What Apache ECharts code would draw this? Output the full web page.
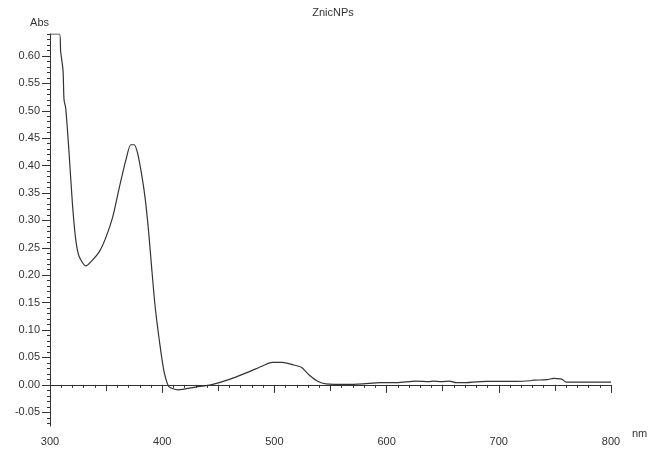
<!DOCTYPE html>
<html>
<head>
<meta charset="utf-8">
<script src="https://cdn.jsdelivr.net/npm/echarts@6/dist/echarts.min.js"></script>
<style>
html,body{margin:0;padding:0;background:#fff;}
#c{width:666px;height:467px;}
</style>
</head>
<body>
<div id="c"></div>
<script>
const chartTitle = 'ZnicNPs';
const xName = 'nm';
const yName = 'Abs';
const wavelength = [300, 308.5, 309.5, 311.6, 312.5, 314, 317, 320, 323, 326, 332, 338, 344, 350, 356, 362, 368, 372, 375, 378, 382, 385, 388, 391, 394, 399, 402, 406, 414, 430, 445, 460, 475, 490, 498, 507, 516, 524, 531, 539, 546, 564, 579, 594, 609, 626, 638, 641, 649, 656, 662, 671, 680, 689, 701, 716, 728, 731, 743, 749, 755, 757, 760, 800];
const absorbance = [0.640, 0.640, 0.608, 0.574, 0.520, 0.505, 0.423, 0.330, 0.264, 0.234, 0.217, 0.228, 0.243, 0.270, 0.307, 0.362, 0.413, 0.438, 0.438, 0.423, 0.380, 0.337, 0.277, 0.204, 0.137, 0.058, 0.021, -0.003, -0.009, -0.004, 0.001, 0.010, 0.022, 0.035, 0.041, 0.041, 0.037, 0.032, 0.018, 0.006, 0.002, 0.001, 0.002, 0.004, 0.004, 0.007, 0.006, 0.007, 0.006, 0.007, 0.004, 0.004, 0.0055, 0.0065, 0.0065, 0.0065, 0.0075, 0.0085, 0.0095, 0.012, 0.011, 0.0095, 0.005, 0.005];
const xTicks = [300, 400, 500, 600, 700, 800];
const xMidTicks = [350, 450, 550, 650, 750];
const yTicks = [-0.05, 0.00, 0.05, 0.10, 0.15, 0.20, 0.25, 0.30, 0.35, 0.40, 0.45, 0.50, 0.55, 0.60];

const yMinorTicks = [];
for (let k = -7; k <= 64; k++) { if (k % 5 !== 0) yMinorTicks.push(k / 100); }

const FONT = 'Liberation Sans, Arial, sans-serif';
const TXT = '#333';
const AX = '#333';

const chart = echarts.init(document.getElementById('c'), null, {renderer: 'canvas'});
chart.setOption({
  animation: false,
  backgroundColor: '#fff',
  grid: {left: 50, right: 55, top: 34, bottom: 41, containLabel: false},
  graphic: [
    {type: 'text', x: 333, y: 13, style: {text: chartTitle, fill: TXT, font: '11px ' + FONT, textAlign: 'center', textVerticalAlign: 'middle'}},
    {type: 'text', x: 49, y: 23, style: {text: yName, fill: TXT, font: '11px ' + FONT, textAlign: 'right', textVerticalAlign: 'middle'}},
    {type: 'text', x: 632, y: 434, style: {text: xName, fill: TXT, font: '11px ' + FONT, textAlign: 'left', textVerticalAlign: 'middle'}}
  ],
  xAxis: [{
    type: 'value', min: 300, max: 800, interval: 100, position: 'bottom',
    axisLine: {show: true, lineStyle: {color: AX, width: 1}},
    axisTick: {show: true, length: 8, inside: false, lineStyle: {color: AX}},
    minorTick: {show: true, splitNumber: 10, length: 3, lineStyle: {color: AX}},
    axisLabel: {show: true, color: TXT, fontSize: 11, fontFamily: FONT, margin: 10,
      customValues: xTicks},
    splitLine: {show: false}, minorSplitLine: {show: false}
  }, {
    type: 'value', min: 300, max: 800, position: 'bottom',
    axisLine: {show: false},
    axisTick: {show: true, length: 6, inside: false, customValues: xMidTicks, lineStyle: {color: AX}},
    axisLabel: {show: false},
    splitLine: {show: false}
  }],
  yAxis: [{
    type: 'value', min: -0.075, max: 0.64, position: 'left',
    axisLine: {show: true, lineStyle: {color: AX, width: 1}},
    axisTick: {show: true, length: 8, inside: false, customValues: yTicks, lineStyle: {color: AX}},
    axisLabel: {show: true, customValues: yTicks, color: TXT, fontSize: 11, fontFamily: FONT, margin: 10,
      formatter: v => v.toFixed(2)},
    splitLine: {show: false}
  }, {
    type: 'value', min: -0.075, max: 0.64, position: 'left',
    axisLine: {show: false},
    axisTick: {show: true, length: 3, inside: false, customValues: yMinorTicks, lineStyle: {color: AX}},
    axisLabel: {show: false},
    splitLine: {show: false}
  }],
  series: [{
    type: 'line',
    xAxisIndex: 0, yAxisIndex: 0,
    data: wavelength.map((w, i) => [w, absorbance[i]]),
    showSymbol: false, symbol: 'none',
    smooth: 0.25,
    lineStyle: {color: '#333', width: 1.2},
    clip: true,
    markLine: {
      silent: true, symbol: 'none', animation: false,
      label: {show: false},
      lineStyle: {color: '#333', width: 1, type: [3, 3]},
      data: [{yAxis: 0}]
    }
  }]
});
</script>
</body>
</html>
